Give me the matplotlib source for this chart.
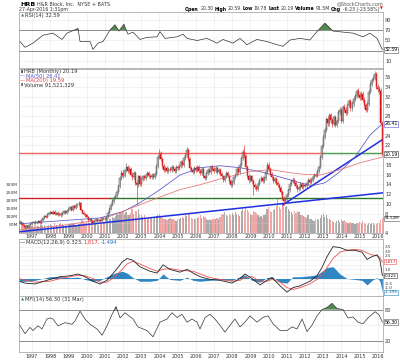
import numpy as np
import matplotlib.pyplot as plt

plt.rcParams['font.family'] = ['DejaVu Sans']

# HRB monthly, May 1996 .. Apr 2016
start = 1996 + 4 / 12
close = [6.3, 6.0, 5.6, 5.3, 5.5, 5.2, 5.6, 5.9,
         6.1, 6.3, 6.0, 6.2, 6.4, 6.1, 6.6, 7.0, 7.4, 7.2, 7.8, 8.1,
         8.3, 8.0, 8.4, 7.9, 8.2, 7.7, 8.0, 7.6, 8.1, 8.5, 8.2, 8.6,
         8.9, 9.3, 8.8, 9.5, 9.2, 9.8, 9.7, 10.2, 8.8, 8.2, 7.9, 7.6,
         7.2, 6.6, 6.9, 6.4, 6.1, 6.5, 6.8, 6.4, 6.7, 6.5, 7.0, 6.9,
         6.8, 7.2, 8.2, 9.0, 9.8, 10.5, 11.2, 11.6, 12.4, 13.6, 15.2, 16.4,
         15.8, 16.9, 17.6, 16.8, 17.2, 16.0, 15.4, 16.3, 14.2, 13.8, 15.6, 14.0,
         15.0, 15.6, 15.2, 15.9, 16.3, 15.7, 15.5, 16.0, 15.4, 16.2, 17.8, 19.6,
         20.4, 19.2, 17.8, 17.0, 17.4, 16.8, 17.2, 16.9, 17.5, 17.1, 16.8, 17.6,
         17.3, 17.8, 18.5, 18.0, 19.4, 20.1, 21.0, 19.2, 17.4, 17.0, 16.6, 17.3,
         16.9, 17.5, 16.8, 16.4, 17.2, 15.6, 15.3, 16.4, 17.0, 16.6, 17.5, 17.1,
         16.8, 17.3, 16.5, 17.0, 16.2, 15.6, 14.8, 15.6, 16.4, 15.8, 14.6, 13.8,
         14.5, 15.4, 16.0, 17.2, 16.5, 17.9, 19.4, 20.6, 19.8, 17.6, 15.8, 14.8,
         15.6, 14.6, 13.8, 13.4, 13.0, 14.0, 14.8, 15.3, 14.6, 15.2, 16.6, 18.0,
         17.2, 16.2, 15.4, 14.6, 15.0, 14.2, 13.8, 13.2, 12.4, 11.2, 10.6, 10.9,
         11.8, 12.9, 14.0, 14.6, 14.9, 14.2, 13.6, 13.0, 13.3, 14.0, 13.4, 13.9,
         13.7, 14.2, 14.8, 14.4, 14.9, 15.5, 15.9, 15.8, 16.8, 17.6, 19.6, 21.8,
         23.8, 25.2, 27.4, 26.5, 28.2, 27.1, 26.3, 27.8, 26.2, 27.0, 28.8, 29.2,
         27.0, 29.8, 29.3, 28.7, 30.2, 31.0, 29.6, 30.6, 31.6, 32.2, 33.1, 32.4,
         31.8, 32.6, 31.4, 30.2, 29.3, 30.5, 33.0, 34.6, 35.4, 35.9, 36.6, 34.0,
         33.6, 33.2, 26.6, 20.19]
high = [6.6, 6.5, 6.2, 5.8, 5.8, 5.7, 5.8, 6.2,
        6.4, 6.5, 6.6, 6.4, 6.7, 6.6, 6.8, 7.3, 7.7, 7.7, 8.1, 8.4,
        8.6, 8.6, 8.7, 8.7, 8.4, 8.5, 8.3, 8.3, 8.4, 8.8, 8.8, 8.9,
        9.2, 9.6, 9.5, 9.8, 9.7, 10.1, 10.1, 10.6, 10.4, 9.0, 8.5, 8.2,
        7.9, 7.4, 7.1, 7.2, 6.6, 6.7, 7.0, 7.0, 6.9, 6.9, 7.2, 7.3,
        7.2, 7.5, 8.5, 9.3, 10.2, 10.9, 11.6, 12.0, 12.8, 14.0, 15.6, 16.9,
        17.0, 17.2, 18.3, 18.0, 17.7, 17.6, 16.5, 16.8, 16.7, 14.8, 16.0, 16.0,
        15.4, 16.0, 16.0, 16.3, 16.7, 16.7, 16.1, 16.4, 16.4, 16.6, 18.2, 20.0,
        21.2, 20.8, 19.6, 18.2, 17.8, 17.8, 17.6, 17.6, 17.9, 17.9, 17.5, 18.0,
        18.0, 18.2, 18.9, 18.9, 19.8, 20.5, 21.6, 21.4, 19.6, 17.8, 17.4, 17.7,
        17.7, 17.9, 17.9, 17.2, 17.6, 17.6, 16.0, 16.8, 17.4, 17.4, 17.9, 17.9,
        17.5, 17.7, 17.7, 17.4, 17.4, 16.6, 16.0, 16.0, 16.8, 16.8, 16.2, 15.0,
        14.9, 15.8, 16.4, 17.6, 17.6, 18.3, 19.9, 21.2, 22.0, 20.2, 18.0, 16.2,
        16.0, 16.0, 15.0, 14.2, 13.8, 14.4, 15.2, 15.7, 15.7, 15.6, 17.0, 18.5,
        18.6, 17.6, 16.6, 15.8, 15.4, 15.4, 14.6, 14.2, 13.6, 12.8, 11.6, 11.3,
        12.2, 13.3, 14.4, 15.0, 15.4, 15.3, 14.6, 14.0, 13.7, 14.4, 14.4, 14.3,
        14.3, 14.6, 15.2, 15.2, 15.3, 15.9, 16.3, 16.3, 17.2, 18.0, 20.0, 22.3,
        24.3, 25.7, 27.9, 28.0, 28.7, 28.7, 27.6, 28.3, 28.3, 27.5, 29.3, 29.8,
        29.7, 30.2, 30.4, 29.8, 30.7, 31.5, 31.5, 31.1, 32.1, 32.7, 33.6, 33.7,
        32.9, 33.1, 33.1, 31.9, 30.7, 31.0, 33.5, 35.1, 35.9, 36.4, 37.3, 37.1,
        34.6, 34.2, 33.8, 27.0]
low = [5.9, 5.8, 5.4, 5.1, 5.1, 5.0, 5.0, 5.4,
       5.7, 5.9, 5.8, 5.8, 6.0, 5.9, 5.9, 6.4, 6.8, 7.0, 7.0, 7.6,
       7.9, 7.8, 7.8, 7.7, 7.7, 7.5, 7.5, 7.3, 7.4, 7.9, 8.0, 8.0,
       8.4, 8.7, 8.6, 8.6, 9.0, 9.0, 9.4, 9.5, 8.6, 8.0, 7.7, 7.3,
       7.0, 6.4, 6.4, 6.2, 5.9, 5.9, 6.3, 6.2, 6.2, 6.3, 6.3, 6.7,
       6.5, 6.6, 7.0, 7.9, 8.7, 9.5, 10.2, 10.9, 11.2, 12.0, 13.3, 14.8,
       15.3, 15.5, 16.6, 16.4, 16.4, 15.6, 14.8, 15.0, 13.8, 9.8, 13.4, 13.6,
       13.7, 14.7, 14.8, 14.8, 15.5, 15.3, 15.1, 15.1, 15.0, 15.0, 15.8, 17.4,
       19.2, 18.8, 17.4, 16.6, 16.6, 16.4, 16.4, 16.5, 16.5, 16.7, 16.4, 16.4,
       16.9, 16.9, 17.4, 17.6, 17.6, 19.0, 19.7, 18.8, 17.0, 16.6, 16.2, 16.2,
       16.5, 16.5, 16.4, 16.0, 16.0, 15.2, 14.9, 14.9, 16.0, 16.2, 16.2, 16.7,
       16.4, 16.4, 16.1, 16.1, 15.8, 15.2, 14.4, 14.4, 15.2, 15.4, 14.2, 13.4,
       13.4, 14.1, 15.0, 15.6, 16.1, 16.1, 17.5, 19.0, 19.4, 17.0, 15.2, 14.2,
       14.4, 14.2, 11.8, 13.0, 12.6, 12.6, 13.6, 14.4, 14.2, 14.2, 14.8, 16.2,
       16.8, 15.8, 15.0, 14.2, 14.2, 13.8, 13.4, 12.8, 12.0, 10.8, 9.8, 10.2,
       10.5, 11.4, 12.5, 13.6, 14.2, 13.8, 13.2, 12.4, 12.6, 12.9, 13.0, 13.0,
       13.3, 13.3, 13.8, 14.0, 14.0, 14.5, 15.1, 15.4, 15.4, 16.4, 17.2, 19.2,
       21.4, 23.3, 24.8, 26.0, 26.0, 26.6, 25.8, 25.9, 25.8, 25.7, 26.6, 28.3,
       26.5, 26.6, 28.8, 28.2, 28.2, 29.8, 29.1, 29.1, 30.1, 31.1, 31.7, 31.9,
       31.3, 31.3, 30.9, 29.7, 28.8, 28.8, 30.0, 32.5, 34.1, 34.9, 35.4, 33.5,
       33.0, 32.6, 26.1, 19.78]
volume_m = [40, 55, 48, 35, 42, 50, 38, 45,
            45, 40, 52, 38, 42, 35, 48, 44, 50, 40, 46, 52,
            55, 48, 45, 60, 50, 42, 58, 62, 55, 48, 50, 45,
            52, 58, 60, 55, 62, 50, 48, 56, 65, 80, 72, 60,
            75, 70, 62, 80, 68, 58, 55, 60, 52, 58, 55, 62,
            70, 85, 95, 90, 88, 100, 92, 105, 120, 110, 130, 125,
            140, 120, 130, 110, 115, 125, 150, 120, 140, 135, 150, 120,
            110, 100, 115, 95, 90, 85, 100, 92, 88, 95, 105, 115,
            120, 105, 95, 90, 85, 80, 88, 92, 85, 90, 82, 78,
            85, 90, 95, 100, 92, 110, 105, 120, 115, 95, 88, 90,
            85, 92, 100, 110, 95, 105, 98, 90, 82, 88, 80, 85,
            90, 85, 95, 88, 100, 110, 120, 130, 115, 105, 120, 110,
            125, 115, 130, 120, 110, 105, 140, 150, 135, 160, 145, 130,
            120, 110, 140, 130, 125, 110, 100, 105, 95, 115, 120, 150,
            160, 140, 130, 145, 150, 170, 210, 165, 150, 175, 190, 160,
            170, 150, 140, 130, 120, 135, 125, 140, 130, 115, 110, 105,
            100, 95, 110, 90, 85, 80, 75, 85, 90, 80, 95, 110,
            120, 100, 110, 95, 85, 80, 75, 70, 65, 75, 80, 70,
            85, 75, 80, 70, 65, 60, 70, 65, 60, 55, 65, 60,
            70, 65, 75, 60, 55, 50, 60, 55, 65, 60, 50, 55,
            65, 60, 80, 92]

# moving averages
ma_t = [1996.29, 1998.54, 2000.74, 2002.0, 2002.93, 2004.03, 2005.13, 2006.23, 2007.33,
        2008.43, 2009.53, 2010.63, 2011.73, 2012.38, 2013.1, 2013.92, 2014.75, 2015.57, 2016.25]
ma50 = [5.9, 6.5, 7.1, 8.4, 10.2, 12.9, 15.9, 17.4, 17.8,
        17.4, 16.6, 15.5, 14.3, 13.7, 14.3, 16.6, 19.6, 24.1, 26.41]
ma200_t = [1996.29, 1998.54, 2000.74, 2001.84, 2003.48, 2005.13, 2006.23, 2007.33,
           2008.98, 2010.08, 2011.73, 2012.82, 2013.92, 2015.02, 2016.25]
ma200 = [4.7, 5.5, 6.7, 8.2, 10.6, 12.9, 13.9, 15.1,
         16.6, 17.0, 16.1, 15.9, 17.0, 18.4, 19.59]

# RSI(14)
rsi_t = [1996.34, 1996.62, 1997.05, 1997.6, 1998.15, 1998.65, 1998.92, 1999.53, 1999.64,
         2000.19, 2000.35, 2000.63, 2000.9, 2001.29, 2001.56, 2001.78, 2002.05, 2002.27,
         2002.55, 2002.93, 2003.32, 2003.87, 2004.03, 2004.31, 2004.97, 2005.3, 2005.52,
         2006.07, 2006.62, 2007.16, 2007.49, 2008.04, 2008.43, 2008.81, 2009.36, 2009.91,
         2010.46, 2010.79, 2011.18, 2011.73, 2012.27, 2012.66, 2013.1, 2013.54, 2014.09,
         2014.64, 2015.19, 2015.57, 2015.96, 2016.25]
rsi = [48, 37, 45, 60, 64, 52, 64, 73, 48,
       48, 33, 45, 48, 70, 80, 68, 81, 62,
       66, 52, 56, 57, 67, 54, 57, 62, 54,
       50, 54, 45, 52, 45, 54, 42, 52, 48,
       42, 39, 51, 54, 51, 67, 83, 68, 66,
       64, 57, 64, 54, 32.59]

# MACD(12,26,9)
macd_t = [1996.29, 1996.62, 1997.16, 1997.99, 1998.54, 1999.09, 1999.53, 1999.91, 2000.35,
          2000.74, 2001.12, 2001.56, 2001.95, 2002.22, 2002.55, 2002.93, 2003.48, 2003.87,
          2004.2, 2004.58, 2005.13, 2005.52, 2005.85, 2006.23, 2006.78, 2007.33, 2007.99,
          2008.43, 2008.7, 2009.09, 2009.53, 2009.91, 2010.19, 2010.63, 2011.01, 2011.34,
          2011.73, 2012.27, 2012.66, 2012.93, 2013.21, 2013.54, 2013.92, 2014.31, 2014.75,
          2015.13, 2015.41, 2015.68, 2015.96, 2016.12, 2016.25]
macd = [-0.3, -0.5, -0.6, -0.1, 0.2, 0.3, 0.5, 0.2, -0.3,
        -0.6, -0.2, 0.8, 1.8, 2.2, 2.0, 1.3, 0.8, 0.6,
        1.5, 1.0, 0.7, 1.0, 0.6, 0.2, -0.1, -0.2, -0.5,
        0.0, 0.5, 0.0, -0.7, -0.2, 0.1, -0.8, -1.5, -1.0,
        -0.8, -0.3, 0.3, 1.2, 2.4, 3.5, 3.4, 3.1, 3.1,
        2.9, 2.1, 2.4, 2.6, 2.0, 0.323]
signal = [0.0, -0.2, -0.4, -0.3, 0.0, 0.2, 0.35, 0.3, 0.0,
          -0.4, -0.4, 0.2, 1.0, 1.6, 1.9, 1.6, 1.1, 0.8,
          1.0, 1.1, 0.9, 0.85, 0.8, 0.5, 0.1, -0.1, -0.3,
          -0.2, 0.1, 0.2, -0.3, -0.3, -0.1, -0.4, -1.0, -1.2,
          -1.0, -0.6, -0.1, 0.4, 1.2, 2.2, 2.9, 3.1, 3.2,
          3.1, 2.8, 2.6, 2.5, 2.3, 1.817]

# MFI(14)
mfi_t = [1996.29, 1996.62, 1996.89, 1997.05, 1997.33, 1997.55, 1997.82, 1997.99, 1998.15,
         1998.43, 1998.81, 1999.2, 1999.36, 1999.64, 1999.91, 2000.19, 2000.57, 2000.85,
         2001.12, 2001.4, 2001.62, 2001.84, 2002.11, 2002.55, 2002.82, 2003.32, 2003.65,
         2004.03, 2004.42, 2004.69, 2004.97, 2005.24, 2005.52, 2005.79, 2006.07, 2006.23,
         2006.51, 2006.78, 2007.05, 2007.33, 2007.6, 2007.88, 2008.15, 2008.43, 2008.7,
         2008.98, 2009.36, 2009.69, 2009.97, 2010.24, 2010.63, 2011.01, 2011.29, 2011.56,
         2011.84, 2012.11, 2012.38, 2012.66, 2012.93, 2013.21, 2013.48, 2013.76, 2014.09,
         2014.36, 2014.64, 2014.91, 2015.19, 2015.46, 2015.85, 2016.07, 2016.25]
mfi = [52, 34, 46, 40, 49, 43, 62, 64, 62,
       49, 55, 52, 58, 77, 62, 52, 43, 31,
       49, 71, 86, 64, 74, 62, 47, 40, 28,
       56, 62, 74, 65, 71, 56, 62, 56, 43,
       65, 71, 62, 50, 37, 50, 62, 47, 56,
       68, 56, 65, 68, 53, 40, 40, 47, 43,
       62, 38, 50, 68, 80, 84, 92, 82, 80,
       64, 66, 56, 53, 64, 76, 70, 56.3]

years = list(range(1997, 2017))

# ---------------------------------------------------------------
W, H = 400, 362
fig = plt.figure(figsize=(W / 100, H / 100), dpi=100)
renderer = fig.canvas.get_renderer()
X0, X1 = 1996.286, 2016.286


def panel(top, bottom):
    ax = fig.add_axes([19 / W, 1 - bottom / H, 364 / W, (bottom - top) / H])
    ax.set_xlim(X0, X1)
    for s in ax.spines.values():
        s.set_color('#9a9a9a')
        s.set_linewidth(0.5)
    ax.set_xticks(years)
    ax.set_xticklabels([])
    ax.tick_params(length=0, labelsize=3.6, pad=1.5, colors='#333333')
    ax.yaxis.tick_right()
    ax.grid(True, color='#d4d4d4', lw=0.4, ls=(0, (1, 1)))
    ax.set_axisbelow(True)
    return ax


def yticks(ax, ticks, hide=(), fmt='%g', fs=3.6):
    ax.set_yticks(ticks)
    ax.set_yticklabels(['' if v in hide else fmt % v for v in ticks], fontsize=fs)


def ftext(x, y, s, **kw):
    kw.setdefault('fontsize', 3.7)
    kw.setdefault('va', 'center')
    return fig.text(x / W, 1 - y / H, s, **kw)


def run(x, y, parts, right=False, gap=1.5):
    # lay out text pieces one after the other (pixel coords)
    items = [ftext(0, y, s, **kw) for s, kw in parts]
    widths = [it.get_window_extent(renderer).width for it in items]
    if right:
        x -= sum(widths) + gap * (len(items) - 1)
    for it, w in zip(items, widths):
        it.set_x(x / W)
        x += w + gap


def vbox(ax, y, s, ec, tc='black', fs=3.3):
    ax.text(1.004, y, s, transform=ax.get_yaxis_transform(), fontsize=fs, color=tc,
            va='center', ha='left', clip_on=False,
            bbox=dict(boxstyle='square,pad=0.12', fc='white', ec=ec, lw=0.4))


# header
run(20, 4, [('HRB', dict(fontsize=4.6, weight='bold')),
            ('H&R Block, Inc.  NYSE + BATS', dict(fontsize=3.5, color='#333333'))])
ftext(383, 3.5, '@StockCharts.com', fontsize=3.5, color='#555555', ha='right')
ftext(19, 9.5, '27-Apr-2016 1:31pm', fontsize=3.4, color='#333333')
hdr = []
for k, v in [('Open', '20.30'), ('High', '20.59'), ('Low', '19.78'), ('Last', '20.19'),
             ('Volume', '91.5M'), ('Chg', '-6.23 (-23.58%)')]:
    hdr.append((k, dict(fontsize=3.3, weight='bold')))
    hdr.append((v, dict(fontsize=3.3, color='#333333')))
hdr.append(('\u25bc', dict(fontsize=2.6, color='red')))
run(383, 9, hdr, right=True, gap=1.2)

# RSI panel
ax_r = panel(12, 68)
ax_r.set_ylim(-2.4, 104.3)
yticks(ax_r, [10, 30, 50, 70, 90], hide=(30,))
for lv in (30, 70):
    ax_r.axhline(lv, color='#8c8c8c', lw=0.7)
ax_r.plot(rsi_t, rsi, color='#333333', lw=0.5)
rv = np.array(rsi)
ax_r.fill_between(rsi_t, 70, rv, where=rv > 70, interpolate=True, color='#4f8a4f', lw=0)
vbox(ax_r, rsi[-1], '32.59', '#555555')
run(21, 15.5, [('\u25b2', dict(fontsize=3.0, color='#4f8a4f')),
               ('RSI(14) 32.59', dict(color='#333333'))], gap=0.8)

# price panel (volume underneath)
ax_v = panel(69, 233)
ax_v.yaxis.tick_left()
ax_v.set_ylim(0, 1025)
ax_v.set_yticks([50, 100, 150, 200, 250, 300])
ax_v.set_yticklabels(['50M', '100M', '150M', '200M', '250M', '300M'], fontsize=3.2)
ax_v.tick_params(axis='y', pad=1)
ax_v.grid(axis='y', visible=False)

t = start + np.arange(len(close)) / 12
c = np.array(close)
o = np.r_[6.1, c[:-1]]
hi = np.array(high)
lo = np.array(low)
down = c < o
vol_col = np.where(down, '#f2a7a7', '#a9a9a9')
ax_v.bar(t, volume_m, width=1 / 12 * 0.8, color=vol_col, lw=0)

ax_p = ax_v.twinx()
ax_p.set_xlim(X0, X1)
ax_p.set_ylim(4.06, 37.66)
yticks(ax_p, list(range(4, 37, 2)), hide=(6, 20, 26))
ax_p.tick_params(length=0, pad=1.5, colors='#333333')
ax_p.grid(axis='y', color='#d4d4d4', lw=0.4, ls=(0, (1, 1)))
for s in ax_p.spines.values():
    s.set_visible(False)

# support / resistance and trend lines
ax_p.plot([X0, 2001.29], [11.23, 11.23], color='#d42020', lw=1.0)
ax_p.plot([2001.29, X1], [11.23, 11.23], color='#2a7a2a', lw=1.0)
ax_p.plot([X0, 2012.99], [20.35, 20.35], color='#f06060', lw=1.0)
ax_p.plot([2012.99, X1], [20.35, 20.35], color='#4a9a4a', lw=1.0)
ax_p.plot([1996.34, 2016.29], [4.26, 12.25], color='#1f2ee0', lw=1.1)
ax_p.plot([2010.79, 2016.23], [9.8, 23.1], color='#1f2ee0', lw=1.1)

ax_p.plot(ma_t, ma50, color='#5555c8', lw=0.55)
ax_p.plot(ma200_t, ma200, color='#e87070', lw=0.55)

ax_p.vlines(t, lo, hi, color=np.where(down, '#e03030', '#666666'), lw=0.45)
ax_p.bar(t[~down], (c - o)[~down], bottom=o[~down], width=0.055,
         color='white', edgecolor='#444444', lw=0.35)
ax_p.bar(t[down], (c - o)[down], bottom=o[down], width=0.055,
         color='#e41a1a', edgecolor='#c00000', lw=0.3)

vbox(ax_p, ma50[-1], '26.41', '#5555c8')
vbox(ax_p, close[-1], '20.19', '#333333')
vbox(ax_v, volume_m[-1], '91.52M', '#555555', fs=2.9)

run(21, 71.5, [('\u25ae', dict(fontsize=3.0, color='#333333')),
               ('HRB (Monthly) 20.19', dict(color='#333333'))], gap=0.8)
run(20, 76.2, [('\u2014', dict(color='#5555c8')),
               ('MA(50) 26.41', dict(color='#5555c8'))], gap=0.8)
run(20, 80.8, [('\u2014', dict(color='#e04040')),
               ('MA(200) 19.59', dict(color='#e04040'))], gap=0.8)
run(21, 85.4, [('\u25ae', dict(fontsize=3.0, color='#555555')),
               ('Volume 91,521,329', dict(color='#333333'))], gap=0.8)

for y in years:
    ftext(32 + (y - 1997) * 18.2, 236, str(y), ha='center', fontsize=3.5, color='#333333')

# MACD panel
ax_m = panel(239, 296)
ax_m.set_ylim(-1.92, 4.34)
yticks(ax_m, [-1.0, -0.5, 0.0, 0.5, 1.0, 1.5, 2.0, 2.5, 3.0, 3.5],
       hide=(0.0, 0.5, 1.5, 2.0), fmt='%.1f', fs=3.0)
mt = np.array(macd_t)
hist = np.array(macd) - np.array(signal)
ax_m.fill_between(mt, 0, hist, color='#2f86c0', lw=0)
ax_m.plot(mt, signal, color='#f05050', lw=0.6)
ax_m.plot(mt, macd, color='#222222', lw=0.6)
vbox(ax_m, signal[-1], '1.817', '#f05050', tc='#d02020', fs=3.0)
vbox(ax_m, macd[-1], '0.323', '#333333', fs=3.0)
vbox(ax_m, hist[-1], '-1.494', '#2f86c0', tc='#1060a0', fs=3.0)
run(20, 242.5, [('\u2014', dict(color='#222222')),
                ('MACD(12,26,9) 0.323,', dict(color='#333333')),
                ('1.817,', dict(color='#e03030')),
                ('-1.494', dict(color='#1f6fbf'))], gap=1.0)

# MFI panel
ax_f = panel(296, 352)
ax_f.set_ylim(-1, 106)
yticks(ax_f, [20, 50, 80], hide=(50,))
for lv in (20, 80):
    ax_f.axhline(lv, color='#8c8c8c', lw=0.7)
fv = np.array(mfi)
ax_f.plot(mfi_t, mfi, color='#333333', lw=0.5)
ax_f.fill_between(mfi_t, 80, fv, where=fv > 80, interpolate=True, color='#4f8a4f', lw=0)
vbox(ax_f, mfi[-1], '56.30', '#555555')
run(21, 299.5, [('\u25b2', dict(fontsize=3.0, color='#4f8a4f')),
                ('MFI(14) 56.30 (31 Mar)', dict(color='#333333'))], gap=0.8)

for y in years:
    ftext(32 + (y - 1997) * 18.2, 356.5, str(y), ha='center', fontsize=3.5, color='#333333')

fig.savefig('out.png', dpi=100, facecolor='white')
